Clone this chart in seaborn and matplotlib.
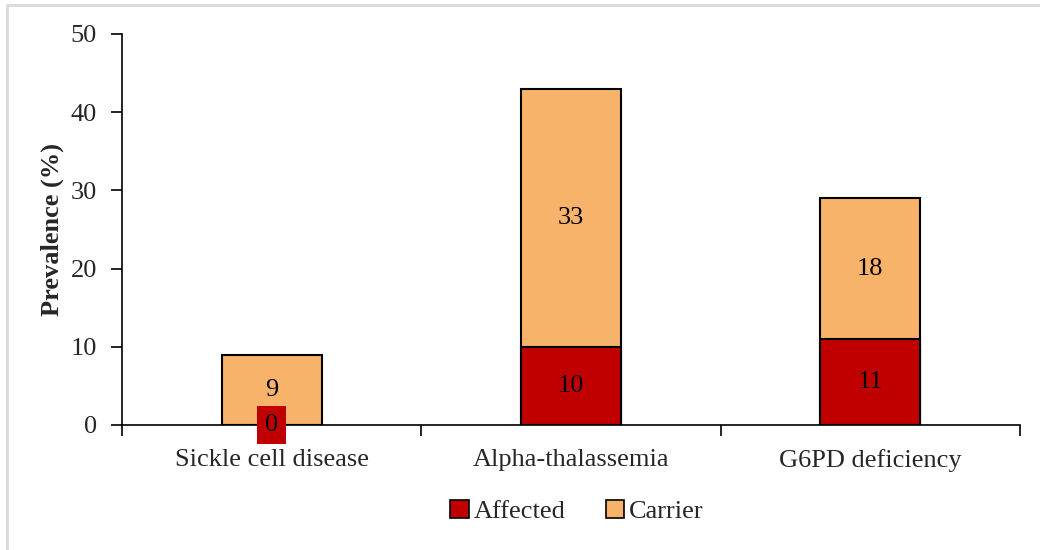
import matplotlib
matplotlib.use("Agg")
import matplotlib.pyplot as plt
import pandas as pd
import seaborn as sns
from matplotlib.patches import Patch, Rectangle

CATEGORIES = ["Sickle cell disease", "Alpha-thalassemia", "G6PD deficiency"]
AFFECTED = [0, 10, 11]
CARRIER = [9, 33, 18]
Y_TICKS = [0, 10, 20, 30, 40, 50]

RED = "#C00000"
ORANGE = "#F8B36B"

sns.set_theme(style="white")
plt.rcParams["font.family"] = ["Liberation Serif", "DejaVu Serif"]
FS = 19

df = pd.DataFrame({"cat": CATEGORIES, "affected": AFFECTED, "carrier": CARRIER})
df["total"] = df["affected"] + df["carrier"]

fig = plt.figure(figsize=(10.4, 5.5), dpi=100)
ax = fig.add_axes([0.1173, 0.2273, 0.8635, 0.7109])

# stacked bars: total (carrier colour) underneath, affected on top of it
sns.barplot(data=df, x="cat", y="total", color=ORANGE, saturation=1,
            width=0.334, edgecolor="black", linewidth=1.5, ax=ax)
sns.barplot(data=df, x="cat", y="affected", color=RED, saturation=1,
            width=0.334, edgecolor="black", linewidth=1.5, ax=ax)

for i, row in df.iterrows():
    ax.text(i, row["affected"] + row["carrier"] / 2, f"{row['carrier']}",
            ha="center", va="center", fontsize=FS, color="black")
    if row["affected"] == 0:
        ax.text(i, 0, "0", ha="center", va="center", fontsize=FS, color="black",
                bbox=dict(boxstyle="square,pad=0.3", fc=RED, ec="none"))
    else:
        ax.text(i, row["affected"] / 2, f"{row['affected']}",
                ha="center", va="center", fontsize=FS, color="black")

ax.set_ylim(0, 50)
ax.set_xlim(-0.5, 2.5)
ax.set_yticks(Y_TICKS)
ax.set_yticklabels([str(t) for t in Y_TICKS], fontsize=FS)
ax.tick_params(axis="y", direction="out", length=8, width=1.2, pad=10,
               color="black", left=True)
ax.set_xticks(range(len(CATEGORIES)))
ax.set_xticklabels(CATEGORIES, fontsize=FS)
ax.tick_params(axis="x", which="major", length=0, pad=17)
ax.set_xticks([-0.5, 0.5, 1.5, 2.5], minor=True)
ax.tick_params(axis="x", which="minor", direction="out", length=8,
               width=1.2, color="black", bottom=True)
ax.set_xlabel("")
ax.set_ylabel("Prevalence (%)", fontsize=FS, fontweight="bold", labelpad=5)

for side in ["top", "right"]:
    ax.spines[side].set_visible(False)
for side in ["left", "bottom"]:
    ax.spines[side].set_color("black")
    ax.spines[side].set_linewidth(1.2)

handles = [Patch(fc=RED, ec="black", lw=1.2, label="Affected"),
           Patch(fc=ORANGE, ec="black", lw=1.2, label="Carrier")]
fig.legend(handles=handles, loc="center", bbox_to_anchor=(0.555, 0.07),
           ncol=2, frameon=False, fontsize=FS, handlelength=0.7,
           handleheight=0.7, handletextpad=0.2, columnspacing=1.5)

# light grey chart-area frame
fig.patches.append(Rectangle((0.0067, -0.2), 1.2, 1.191, transform=fig.transFigure,
                             fill=False, ec="#D9D9D9", lw=2))

fig.savefig("out.png", dpi=100)
